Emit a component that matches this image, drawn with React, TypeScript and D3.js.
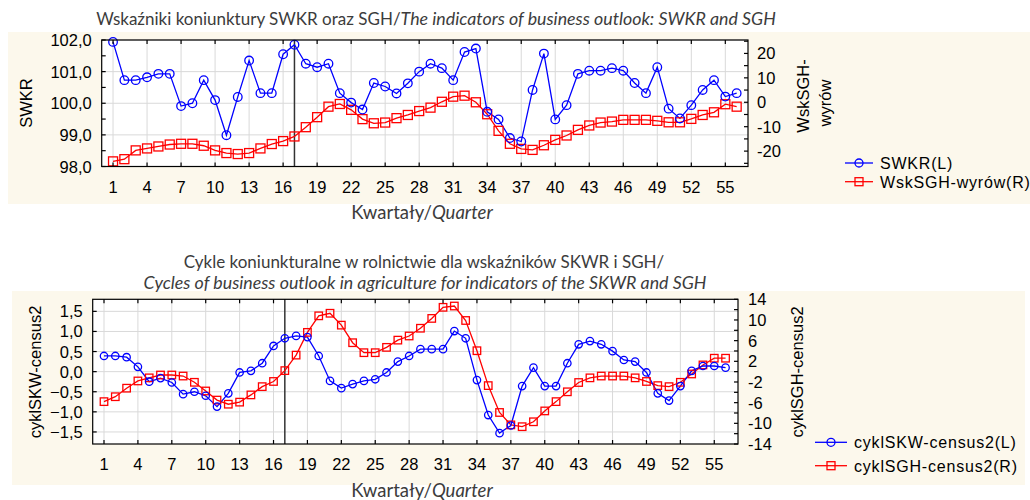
import React, { useEffect, useRef } from "react";
import * as d3 from "d3";

// quarters 1..56
const quarters = d3.range(1, 57);
const quarterTicks = d3.range(1, 57, 3);

// top panel: SWKR (left) and WskSGH-wyrów (right)
const swkr = [
  101.94, 100.73, 100.73, 100.82, 100.93, 100.93, 99.91, 100.0, 100.73, 100.1,
  98.99, 100.2, 101.35, 100.32, 100.32, 101.55, 101.85, 101.25, 101.14, 101.25,
  100.32, 100.02, 99.8, 100.64, 100.53, 100.31, 100.63, 101.0, 101.25, 101.11,
  100.73, 101.62, 101.73, 99.73, 99.49, 98.9, 98.79, 100.42, 101.57, 99.49,
  99.94, 100.93, 101.03, 101.03, 101.11, 101.03, 100.64, 100.32, 101.14, 99.83,
  99.52, 99.94, 100.42, 100.73, 100.21, 100.32,
];
const wskSghWyrow = [
  -24.2, -23.3, -19.7, -18.9, -18.1, -17.3, -17.0, -17.0, -17.8, -19.7,
  -20.8, -21.2, -20.8, -18.9, -17.1, -15.9, -14.0, -10.2, -6.1, -1.8,
  -0.7, -3.1, -6.9, -8.6, -8.3, -6.5, -5.2, -3.6, -2.2, 0.2,
  2.3, 2.7, 0.0, -4.9, -11.7, -17.0, -19.1, -19.5, -17.6, -15.4,
  -13.6, -11.3, -9.5, -8.3, -7.9, -7.2, -7.2, -7.2, -7.6, -8.2,
  -8.2, -6.8, -5.2, -4.1, -0.8, -1.8,
];

// bottom panel: cyklSKW-census2 (left) and cyklSGH-census2 (right)
const cyklSkw = [
  0.39, 0.39, 0.36, 0.12, -0.25, -0.16, -0.27, -0.56, -0.5, -0.6,
  -0.87, -0.54, -0.02, 0.02, 0.21, 0.64, 0.83, 0.89, 0.86, 0.39,
  -0.23, -0.41, -0.31, -0.23, -0.19, -0.02, 0.25, 0.39, 0.56, 0.56,
  0.56, 1.01, 0.83, -0.21, -1.08, -1.53, -1.34, -0.36, 0.1, -0.36,
  -0.36, 0.21, 0.68, 0.76, 0.68, 0.51, 0.29, 0.25, -0.02, -0.54,
  -0.72, -0.36, 0.02, 0.14, 0.14, 0.1,
];
const cyklSgh = [
  -5.8, -4.85, -3.2, -1.8, -1.2, -0.65, -0.65, -0.85, -2.06, -3.74,
  -5.5, -6.3, -5.9, -4.5, -2.9, -1.9, 0.2, 3.2, 7.6, 10.8,
  11.3, 9.0, 5.6, 3.67, 3.67, 4.7, 6.1, 6.9, 8.4, 10.3,
  12.45, 12.7, 9.9, 4.05, -2.7, -7.9, -10.3, -10.65, -9.7, -7.6,
  -5.8, -3.9, -2.1, -1.2, -0.85, -0.85, -0.85, -1.2, -1.9, -2.7,
  -2.9, -2.06, -0.45, 1.3, 2.6, 2.6,
];

const swkrTicks = [98, 99, 100, 101, 102];
const swkrMinor = [98.5, 99.5, 100.5, 101.5];
const wskTicks = [-20, -10, 0, 10, 20];
const wskMinor = [-25, -15, -5, 5, 15, 25];
const cyklSkwTicks = [-1.5, -1, -0.5, 0, 0.5, 1, 1.5];
const cyklSghTicks = [-14, -10, -6, -2, 2, 6, 10, 14];
const cyklSghMinor = [-12, -8, -4, 0, 4, 8, 12];

const markQuarter = 17;

const BLUE = "#0000ff";
const RED = "#ff0000";
const CREAM = "#fcf8ec";
const TITLE = "#3c3c3c";
const ARIAL = "'Liberation Sans', Arial, sans-serif";
const CALIBRI = "Lato, 'Open Sans', sans-serif";

const fmt1 = d3
  .formatLocale({ decimal: ",", thousands: " ", grouping: [3], currency: ["", ""] })
  .format(".1f");

function drawPanel(svg: any, o: any) {
  const g = svg.append("g");
  const x = d3.scaleLinear().domain(o.xDomain).range([o.left, o.right]);
  const yL = d3.scaleLinear().domain(o.yLDomain).range([o.bottom, o.top]);
  const yR = d3.scaleLinear().domain(o.yRDomain).range([o.bottom, o.top]);

  g.append("rect")
    .attr("x", o.bg[0])
    .attr("y", o.bg[1])
    .attr("width", o.bg[2] - o.bg[0])
    .attr("height", o.bg[3] - o.bg[1])
    .attr("fill", CREAM);

  g.append("rect")
    .attr("x", o.left)
    .attr("y", o.top)
    .attr("width", o.right - o.left)
    .attr("height", o.bottom - o.top)
    .attr("fill", "#fff");

  // grid
  quarterTicks.forEach((q) => {
    g.append("line")
      .attr("x1", x(q)).attr("x2", x(q))
      .attr("y1", o.top).attr("y2", o.bottom)
      .attr("stroke", "#d9d9d9").attr("stroke-width", 1);
  });
  o.leftTicks.forEach((v: number) => {
    g.append("line")
      .attr("x1", o.left).attr("x2", o.right)
      .attr("y1", yL(v)).attr("y2", yL(v))
      .attr("stroke", "#d9d9d9").attr("stroke-width", 1);
  });

  // reference line
  g.append("line")
    .attr("x1", x(markQuarter)).attr("x2", x(markQuarter))
    .attr("y1", o.top).attr("y2", o.bottom)
    .attr("stroke", "#333").attr("stroke-width", 1.5);

  const lineL = d3.line<number>().x((_, i) => x(quarters[i])).y((d) => yL(d));
  const lineR = d3.line<number>().x((_, i) => x(quarters[i])).y((d) => yR(d));

  g.append("path").attr("d", lineR(o.rightValues)).attr("fill", "none")
    .attr("stroke", RED).attr("stroke-width", 1.3);
  g.append("path").attr("d", lineL(o.leftValues)).attr("fill", "none")
    .attr("stroke", BLUE).attr("stroke-width", 1.3);

  g.selectAll(null)
    .data(o.rightValues)
    .enter()
    .append("rect")
    .attr("x", (_: number, i: number) => x(quarters[i]) - o.sq / 2)
    .attr("y", (d: number) => yR(d) - o.sq / 2)
    .attr("width", o.sq).attr("height", o.sq)
    .attr("fill", "none").attr("stroke", RED).attr("stroke-width", 1.3);

  g.selectAll(null)
    .data(o.leftValues)
    .enter()
    .append("circle")
    .attr("cx", (_: number, i: number) => x(quarters[i]))
    .attr("cy", (d: number) => yL(d))
    .attr("r", o.r)
    .attr("fill", "none").attr("stroke", BLUE).attr("stroke-width", 1.3);

  // frame
  g.append("rect")
    .attr("x", o.left).attr("y", o.top)
    .attr("width", o.right - o.left).attr("height", o.bottom - o.top)
    .attr("fill", "none").attr("stroke", "#000").attr("stroke-width", 1.2);

  const tick = (x1: number, y1: number, x2: number, y2: number) =>
    g.append("line").attr("x1", x1).attr("y1", y1).attr("x2", x2).attr("y2", y2)
      .attr("stroke", "#000").attr("stroke-width", 1.2);

  quarterTicks.forEach((q) => {
    tick(x(q), o.top, x(q), o.top + 4);
    tick(x(q), o.bottom, x(q), o.bottom - 4);
    g.append("text")
      .attr("x", x(q)).attr("y", o.xLabelY)
      .attr("text-anchor", "middle")
      .attr("font-family", ARIAL).attr("font-size", 16.5)
      .text(q);
  });
  [...o.leftTicks, ...(o.leftMinor || [])].forEach((v: number) => tick(o.left, yL(v), o.left + 4, yL(v)));
  o.leftTicks.forEach((v: number) => {
    g.append("text")
      .attr("x", o.left - 10).attr("y", yL(v) + 6)
      .attr("text-anchor", "end")
      .attr("font-family", ARIAL).attr("font-size", 16.5)
      .text(fmt1(v));
  });
  [...o.rightTicks, ...(o.rightMinor || [])].forEach((v: number) => tick(o.right, yR(v), o.right - 4, yR(v)));
  o.rightTicks.forEach((v: number) => {
    g.append("text")
      .attr("x", o.rightLabelX).attr("y", yR(v) + 6)
      .attr("font-family", ARIAL).attr("font-size", 16.5)
      .text(v);
  });

  // axis titles
  o.axisTitles.forEach((t: any) => {
    g.append("text")
      .attr("transform", `translate(${t.x},${t.y}) rotate(-90)`)
      .attr("text-anchor", "middle")
      .attr("font-family", ARIAL).attr("font-size", 16.5)
      .text(t.text);
  });

  // x title
  const xt = g.append("text")
    .attr("x", o.xTitle[0]).attr("y", o.xTitle[1])
    .attr("text-anchor", "middle")
    .attr("font-family", CALIBRI).attr("font-size", 18.5).attr("fill", TITLE);
  xt.append("tspan").text("Kwartały/");
  xt.append("tspan").attr("font-style", "italic").text("Quarter");

  // legend
  o.legend.forEach((l: any, i: number) => {
    const ly = o.legendY + i * o.legendGap;
    const [l0, l1] = o.legendLine;
    g.append("line").attr("x1", l0).attr("x2", l1).attr("y1", ly).attr("y2", ly)
      .attr("stroke", l.color).attr("stroke-width", 1.3);
    const mx = (l0 + l1) / 2;
    if (l.shape === "circle") {
      g.append("circle").attr("cx", mx).attr("cy", ly).attr("r", 4)
        .attr("fill", "none").attr("stroke", l.color).attr("stroke-width", 1.3);
    } else {
      g.append("rect").attr("x", mx - 4).attr("y", ly - 4).attr("width", 8).attr("height", 8)
        .attr("fill", "none").attr("stroke", l.color).attr("stroke-width", 1.3);
    }
    g.append("text")
      .attr("x", l1 + 7).attr("y", ly + 6)
      .attr("font-family", ARIAL).attr("font-size", 16).attr("letter-spacing", 0.8)
      .text(l.text);
  });
}

export default function App() {
  const ref = useRef<SVGSVGElement>(null);

  useEffect(() => {
    const svg = d3.select(ref.current);
    svg.selectAll("*").remove();

    drawPanel(svg, {
      bg: [8, 32, 1030, 204],
      left: 101.7, right: 748, top: 40, bottom: 166.5,
      xDomain: [0, 57],
      yLDomain: [98, 102], yRDomain: [-26.3, 25.5],
      leftTicks: swkrTicks, leftMinor: swkrMinor,
      rightTicks: wskTicks, rightMinor: wskMinor,
      leftValues: swkr, rightValues: wskSghWyrow,
      r: 4.3, sq: 9,
      xLabelY: 193, rightLabelX: 757,
      axisTitles: [
        { text: "SWKR", x: 32, y: 103 },
        { text: "WskSGH-", x: 809, y: 96 },
        { text: "wyrów", x: 831, y: 103 },
      ],
      xTitle: [422, 219],
      legendLine: [845, 873], legendY: 163, legendGap: 18.7,
      legend: [
        { text: "SWKR(L)", color: BLUE, shape: "circle" },
        { text: "WskSGH-wyrów(R)", color: RED, shape: "square" },
      ],
    });

    drawPanel(svg, {
      bg: [12, 291, 1025, 485],
      left: 92.7, right: 738, top: 299.3, bottom: 444,
      xDomain: [0, 57.1],
      yLDomain: [-1.8, 1.8], yRDomain: [-14, 14],
      leftTicks: cyklSkwTicks,
      rightTicks: cyklSghTicks, rightMinor: cyklSghMinor,
      leftValues: cyklSkw, rightValues: cyklSgh,
      r: 3.7, sq: 7.5,
      xLabelY: 470, rightLabelX: 748,
      axisTitles: [
        { text: "cyklSKW-census2", x: 41, y: 372 },
        { text: "cyklSGH-census2", x: 803, y: 372 },
      ],
      xTitle: [422, 497],
      legendLine: [815, 847], legendY: 442.3, legendGap: 23.4,
      legend: [
        { text: "cyklSKW-census2(L)", color: BLUE, shape: "circle" },
        { text: "cyklSGH-census2(R)", color: RED, shape: "square" },
      ],
    });

    // titles
    const t1 = svg.append("text")
      .attr("x", 436).attr("y", 25).attr("text-anchor", "middle")
      .attr("font-family", CALIBRI).attr("font-size", 17).attr("fill", TITLE);
    t1.append("tspan").text("Wskaźniki koniunktury SWKR oraz SGH/");
    t1.append("tspan").attr("font-style", "italic").attr("font-size", 17.8)
      .text("The indicators of business outlook: SWKR and SGH");

    svg.append("text")
      .attr("x", 424).attr("y", 268).attr("text-anchor", "middle")
      .attr("font-family", CALIBRI).attr("font-size", 17).attr("fill", TITLE)
      .text("Cykle koniunkturalne w rolnictwie dla wskaźników SKWR i SGH/");
    svg.append("text")
      .attr("x", 425).attr("y", 289).attr("text-anchor", "middle")
      .attr("font-family", CALIBRI).attr("font-size", 17.8).attr("font-style", "italic").attr("fill", TITLE)
      .text("Cycles of business outlook in agriculture for indicators of the SKWR and SGH");
  }, []);

  return (
    <svg
      ref={ref}
      width={1030}
      height={500}
      style={{ position: "absolute", left: 0, top: 0, background: "#fff" }}
    />
  );
}
